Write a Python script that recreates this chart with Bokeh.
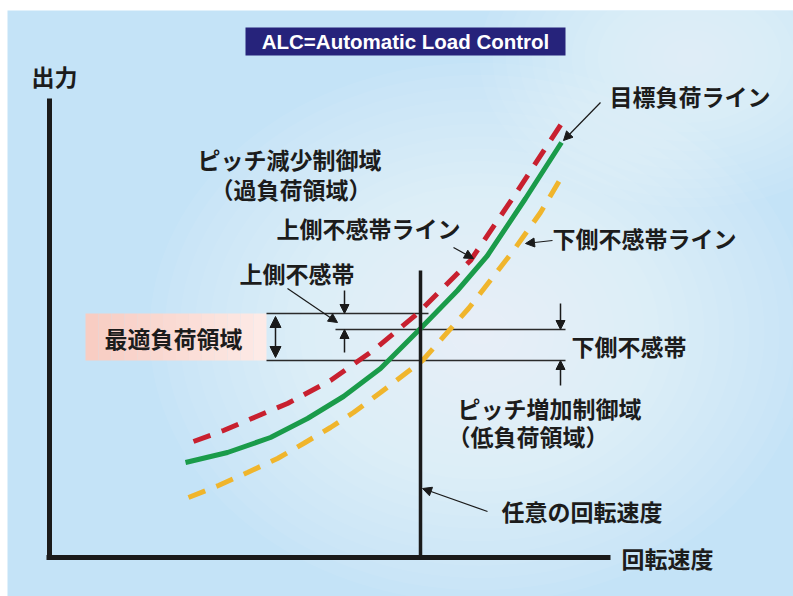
from bokeh.plotting import figure
from bokeh.models import Range1d, Label, Arrow, NormalHead
from bokeh.embed import file_html
from bokeh.resources import INLINE

# ---- data (speed, output); origin at the axes corner ----
target_speed = [136, 178, 221, 258, 294, 331, 371, 408, 438, 476, 512]
target_output = [95, 105, 120, 139, 161, 189, 229, 267, 302, 359, 415]
upper_speed = [144, 174, 207, 238, 281, 325, 368, 421, 467, 514]
upper_output = [116, 127, 141, 154, 177, 208, 244, 297, 365, 437]
lower_speed = [139, 169, 198, 228, 254, 281, 304, 331, 373, 419, 464, 491, 513]
lower_output = [60, 72, 85, 99, 114, 130, 145, 165, 197, 249, 307, 345, 382]

chosen_speed = 371
level_upper = 244
level_target = 228
level_lower = 197

FONT = "Noto Sans CJK JP"

p = figure(width=793, height=596, output_backend="svg", toolbar_location=None,
           x_range=Range1d(-42, 744), y_range=Range1d(-39, 547),
           x_axis_type=None, y_axis_type=None,
           min_border_left=7, min_border_top=10, min_border_right=0, min_border_bottom=0)
p.grid.visible = False
p.outline_line_color = None
p.background_fill_color = "#c4e3f7"
p.border_fill_color = "#ffffff"

# soft white glow in the background
for i in range(22):
    f = 1 - i / 22
    p.ellipse(x=430, y=225, width=660 * f, height=540 * f, fill_color="white",
              fill_alpha=0.055, line_color=None)
for i in range(16):
    f = 1 - i / 16
    p.ellipse(x=640, y=500, width=420 * f, height=300 * f, fill_color="white",
              fill_alpha=0.05, line_color=None)

# pink optimal band
n = 14
x0, x1 = 36, 217
for i in range(n):
    t = i / (n - 1)
    r = int(0xf8 + (0xfd - 0xf8) * t)
    g = int(0xcd + (0xea - 0xcd) * t)
    b = int(0xc3 + (0xe6 - 0xc3) * t)
    p.quad(left=x0 + (x1 - x0) * i / n, right=x0 + (x1 - x0) * (i + 1) / n,
           bottom=level_lower, top=level_upper,
           fill_color="#%02x%02x%02x" % (r, g, b), line_color=None)

# horizontal reference lines
hl = dict(line_color="#2a2a2a", line_width=1.5)
p.segment(x0=217, y0=level_upper, x1=379, y1=level_upper, **hl)
p.segment(x0=286, y0=level_target, x1=516, y1=level_target, **hl)
p.segment(x0=217, y0=level_lower, x1=516, y1=level_lower, **hl)

# curves
p.line(lower_speed, lower_output, line_color="#f0b52c", line_width=5, line_dash="18 12")
p.line(upper_speed, upper_output, line_color="#c8202f", line_width=5, line_dash="18 12")
p.line(target_speed, target_output, line_color="#1a9b4a", line_width=5)

# chosen speed vertical line
p.segment(x0=chosen_speed, y0=0, x1=chosen_speed, y1=287, line_color="#1a1a1a", line_width=3.5)

# axes
p.segment(x0=0, y0=-2, x1=0, y1=459, line_color="#1a1a1a", line_width=5)
p.segment(x0=-3, y0=0, x1=561, y1=0, line_color="#1a1a1a", line_width=5)

def arrow(xs, ys, xe, ye, size=9, both=False, lw=1.2):
    head = lambda: NormalHead(size=size, fill_color="#1a1a1a", line_color="#1a1a1a", line_width=1)
    a = Arrow(x_start=xs, y_start=ys, x_end=xe, y_end=ye, end=head(),
              start=head() if both else None, line_color="#1a1a1a", line_width=lw)
    p.add_layout(a)

arrow(226, 200, 226, 241, size=11, both=True, lw=1.5)
arrow(295, 267, 295, level_upper, size=9, lw=1.5)
arrow(295, 205, 295, level_target, size=9, lw=1.5)
arrow(511, 254, 511, level_target, size=9, lw=1.5)
arrow(511, 172, 511, level_lower, size=9, lw=1.5)
arrow(551, 455, 514, 417)
arrow(404, 310, 424, 299)
arrow(503, 317, 476, 314)
arrow(238, 269, 288, 235)
arrow(438, 46, 373, 69)

# title box
p.quad(left=196, right=516, bottom=502, top=530, fill_color="#26237b", line_color=None)
p.add_layout(Label(x=356, y=516, text="ALC=Automatic Load Control", text_align="center",
                   text_baseline="middle", text_color="white", text_font="Liberation Sans",
                   text_font_style="bold", text_font_size="20.5px"))

labels = [
    ("出力", -18, 482),
    ("目標負荷ライン", 560, 462),
    ("ピッチ減少制御域", 148, 399),
    ("（過負荷領域）", 161, 369),
    ("上側不感帯ライン", 227, 330),
    ("下側不感帯ライン", 503, 320),
    ("上側不感帯", 190, 285),
    ("最適負荷領域", 55, 220),
    ("下側不感帯", 522, 212),
    ("ピッチ増加制御域", 408, 150),
    ("（低負荷領域）", 398, 122),
    ("任意の回転速度", 452, 47),
    ("回転速度", 572, 0),
]
for txt, x, y in labels:
    p.add_layout(Label(x=x, y=y, text=txt, text_align="left", text_baseline="middle",
                       text_color="#1c1c1c", text_font=FONT, text_font_style="bold",
                       text_font_size="23px"))

open("out.html", "w").write(file_html(p, INLINE))
